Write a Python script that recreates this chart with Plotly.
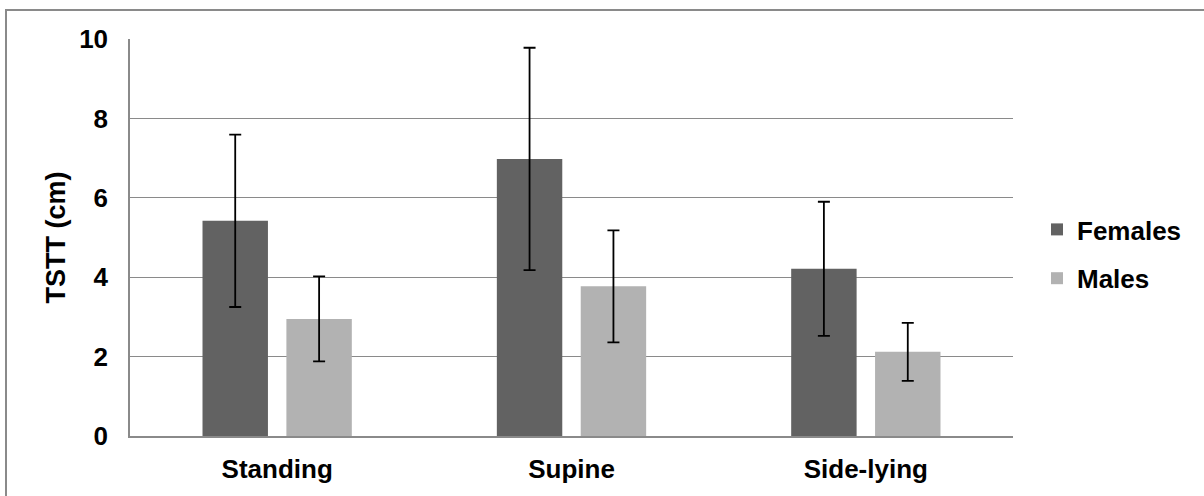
import plotly.graph_objects as go

categories = ["Standing", "Supine", "Side-lying"]
females = [5.42, 6.98, 4.21]
males = [2.95, 3.77, 2.12]
females_err = [2.17, 2.80, 1.69]
males_err = [1.07, 1.41, 0.73]

FONT = "Liberation Sans, Arial, sans-serif"
W, H = 1204, 496
L, R, T, B = 130, 191, 39, 60
pw, ph = W - L - R, H - T - B

fig = go.Figure()
fig.add_trace(go.Bar(
    name="Females", x=categories, y=females, legendgroup="f",
    marker=dict(color="#626262", line=dict(width=0)),
    error_y=dict(type="data", array=females_err, visible=True,
                 color="black", thickness=1.8, width=6),
))
fig.add_trace(go.Bar(
    name="Males", x=categories, y=males, legendgroup="m",
    marker=dict(color="#b2b2b2", line=dict(width=0)),
    error_y=dict(type="data", array=males_err, visible=True,
                 color="black", thickness=1.8, width=6),
))

def px_x(p):
    return (p - L) / pw

def px_y(p):
    return (H - B - p) / ph

fig.update_layout(
    width=W, height=H,
    margin=dict(l=L, r=R, t=T, b=B, autoexpand=False),
    paper_bgcolor="white", plot_bgcolor="white",
    barmode="group", bargap=0.43, bargroupgap=0.22,
    font=dict(family=FONT, size=26, color="black", weight="bold"),
    legend=dict(
        x=px_x(1037), xanchor="left", y=px_y(254), yanchor="middle",
        traceorder="grouped", tracegroupgap=12,
        font=dict(family=FONT, size=26, color="black", weight="bold"),
        bgcolor="rgba(0,0,0,0)", itemwidth=30,
    ),
    xaxis=dict(
        showgrid=False, showline=True, linecolor="#8a8a8a", linewidth=1.5,
        ticks="", tickfont=dict(family=FONT, size=26, color="black", weight="bold"),
        ticklabelstandoff=9, fixedrange=True,
    ),
    yaxis=dict(
        range=[0, 10], dtick=2, tick0=0,
        showgrid=True, gridcolor="#8a8a8a", gridwidth=1.4,
        showline=True, linecolor="#8a8a8a", linewidth=1.5,
        zeroline=False, ticks="",
        tickfont=dict(family=FONT, size=26, color="black", weight="bold"),
        ticklabelstandoff=15,
        title=dict(text="TSTT (cm)", standoff=6,
                   font=dict(family=FONT, size=27, color="black", weight="bold")),
        fixedrange=True,
    ),
    showlegend=True,
)

fig.add_shape(
    type="rect", xref="paper", yref="paper",
    x0=px_x(6), x1=px_x(1212), y0=px_y(10), y1=px_y(505),
    line=dict(color="#8a8a8a", width=2), fillcolor="rgba(0,0,0,0)", layer="below",
)

fig.write_html(
    "out.html",
    config={"displayModeBar": False},
    post_script="document.body.style.margin='0';document.body.style.padding='0';",
)
